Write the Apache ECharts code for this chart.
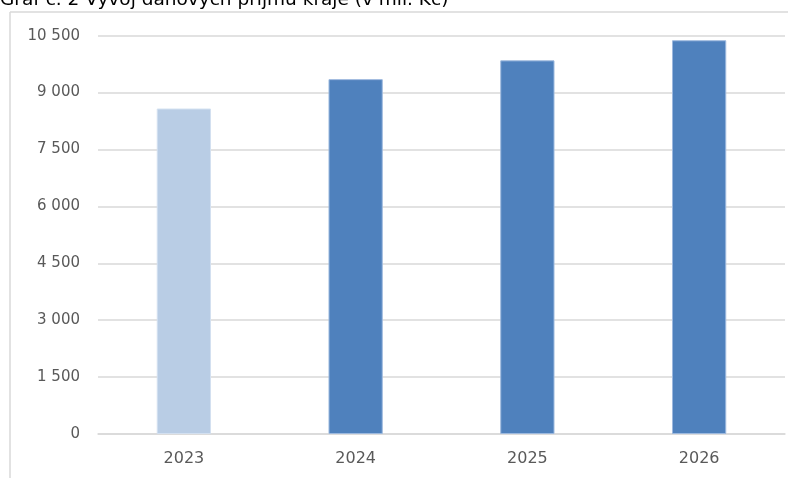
<!DOCTYPE html>
<html>
<head>
<meta charset="utf-8">
<script src="https://cdn.jsdelivr.net/npm/echarts@6/dist/echarts.min.js"></script>
<style>html,body{margin:0;padding:0;background:#fff}#c{width:788px;height:478px}</style>
</head>
<body>
<div id="c"></div>
<script>
const titleText = 'Graf č. 2 Vývoj daňových příjmů kraje (v mil. Kč)';
const categories = ['2023', '2024', '2025', '2026'];
const values = [8580, 9355, 9850, 10380];
const barColors = ['#B9CDE5', '#4F81BD', '#4F81BD', '#4F81BD'];
const barBorders = ['#D3E0F0', '#9DB9DE', '#9DB9DE', '#9DB9DE'];

const chart = echarts.init(document.getElementById('c'), null, {renderer: 'canvas'});
const fmt = v => {
  const s = String(Math.round(v));
  return s.replace(/\B(?=(\d{3})+(?!\d))/g, ' ');
};
chart.setOption({
  animation: false,
  backgroundColor: '#fff',
  grid: {left: 98, right: 3, top: 35.7, bottom: 44, containLabel: false},
  xAxis: {
    type: 'category',
    data: categories,
    axisTick: {show: false},
    axisLine: {lineStyle: {color: '#D9D9D9', width: 1.5}},
    axisLabel: {color: '#595959', fontFamily: 'DejaVu Sans', fontSize: 16, margin: 17}
  },
  yAxis: {
    type: 'value',
    min: 0, max: 10500, interval: 1500,
    axisLine: {show: false},
    axisTick: {show: false},
    splitLine: {lineStyle: {color: '#D9D9D9', width: 1.5}},
    axisLabel: {color: '#595959', fontFamily: 'DejaVu Sans', fontSize: 15, margin: 18, formatter: fmt}
  },
  series: [{
    type: 'bar',
    barWidth: '31.6%',
    data: values.map((v, i) => ({
      value: v,
      itemStyle: {color: barColors[i], borderColor: barBorders[i], borderWidth: 1}
    }))
  }],
  graphic: [
    {type: 'line', shape: {x1: 10, y1: 12, x2: 788, y2: 12}, style: {stroke: '#D9D9D9', lineWidth: 1.5}, z: 10},
    {type: 'line', shape: {x1: 10, y1: 12, x2: 10, y2: 478}, style: {stroke: '#D9D9D9', lineWidth: 1.5}, z: 10},
    {type: 'text', left: 0, top: -9, z: 11,
     style: {text: titleText, fill: '#000', font: '18.5px "DejaVu Sans"'}}
  ]
});
</script>
</body>
</html>
